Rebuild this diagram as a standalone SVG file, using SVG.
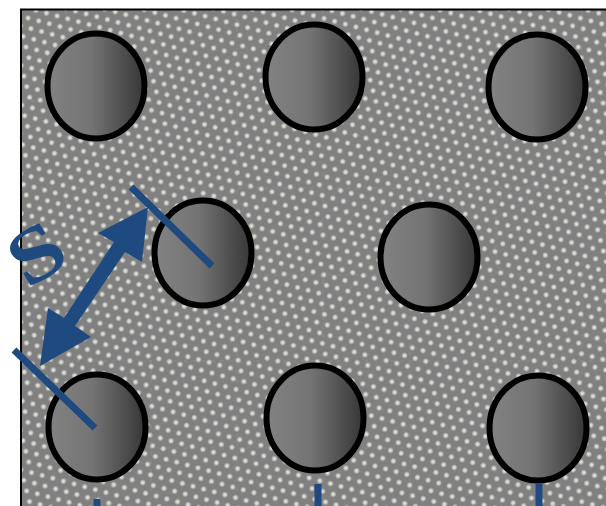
<svg xmlns="http://www.w3.org/2000/svg" width="606" height="506" viewBox="0 0 606 506">
<defs>
<linearGradient id="g" x1="0" x2="1" y1="0" y2="0"><stop offset="0" stop-color="#828282"/><stop offset="0.45" stop-color="#747474"/><stop offset="1" stop-color="#363636"/></linearGradient>
<radialGradient id="d"><stop offset="0" stop-color="#ecece0"/><stop offset="0.5" stop-color="#cdcdc6"/><stop offset="1" stop-color="#808080"/></radialGradient>
<pattern id="p" width="11" height="19.050" patternUnits="userSpaceOnUse" patternTransform="translate(24 12) rotate(15)">
<rect width="11" height="19.050" fill="#808080"/>
<circle cx="5.500" cy="4.760" r="3.200" fill="url(#d)"/><circle cx="0" cy="14.290" r="3.200" fill="url(#d)"/><circle cx="11" cy="14.290" r="3.200" fill="url(#d)"/>
</pattern>
</defs>
<style>
.c{fill:url(#g);stroke:#000;stroke-width:6}
.l{stroke:#1f4a80;stroke-width:7;fill:none}
.a{fill:#1f4a80}
.s{stroke:#a8a8a4;stroke-width:1;stroke-opacity:.3;fill:none;stroke-dasharray:4 5}
</style>
<rect x="21" y="9.500" width="590" height="510" fill="url(#p)" stroke="#000" stroke-width="2"/>
<path class="s" d="M22 101H606M22 188H606M22 275H606M22 361H606M22 448H606M66 10V506M151 10V506M237 10V506M323 10V506M410 10V506M496 10V506M582 10V506"/>
<g id="n1"><ellipse class="c" cx="96" cy="86" rx="48.500" ry="52.500"/></g>
<g id="n2"><ellipse class="c" cx="314" cy="77" rx="48.500" ry="52.500"/></g>
<g id="n3"><ellipse class="c" cx="537" cy="87" rx="48.500" ry="52.500"/></g>
<g id="n4"><ellipse class="c" cx="203" cy="253" rx="48.500" ry="52.500"/></g>
<g id="n5"><ellipse class="c" cx="429" cy="257" rx="48.500" ry="52.500"/></g>
<g id="n6"><ellipse class="c" cx="97" cy="427" rx="48.500" ry="52.500"/></g>
<g id="n7"><ellipse class="c" cx="315" cy="418" rx="48.500" ry="52.500"/></g>
<g id="n8"><ellipse class="c" cx="538" cy="428" rx="48.500" ry="52.500"/></g>
<g id="connectors">
<path class="l" d="M131 187L212 266M14 350L95 428M97 499V506M318 484V506M539 484V506"/>
<path class="a" d="M148 207L142 262L125 252L75 326L91 337L40 366L48 308L64 318L114 242L98 233Z"/>
</g>
<text transform="translate(36 253) rotate(-32) scale(1.300 1.050)" text-anchor="middle" dominant-baseline="central" font-family="Liberation Serif, serif" font-size="74" font-weight="bold" fill="#1f4a80">S</text>
</svg>
